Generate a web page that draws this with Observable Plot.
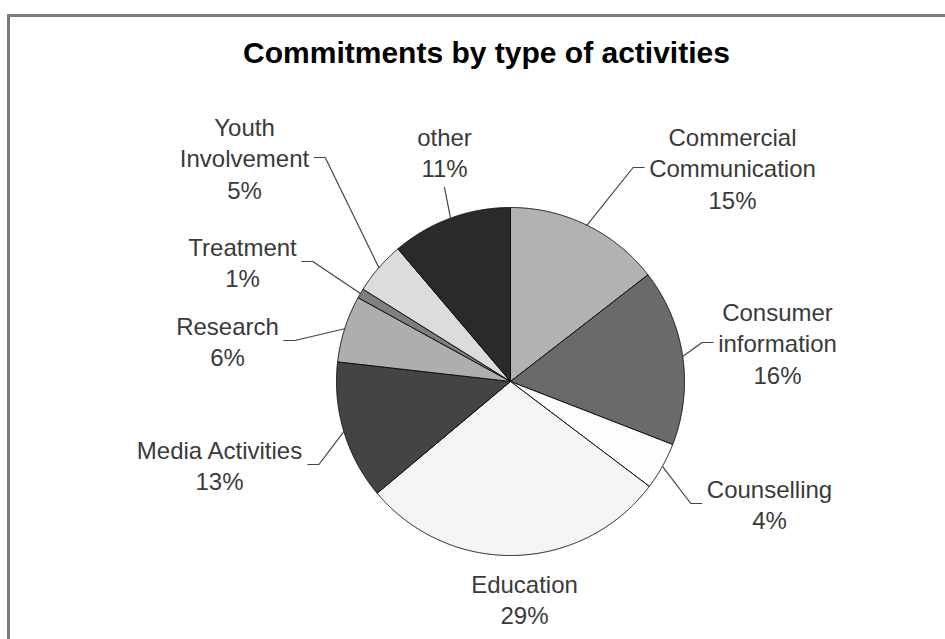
<!DOCTYPE html>
<html><head><meta charset="utf-8">
<script src="https://cdn.jsdelivr.net/npm/d3@7"></script>
<script src="https://cdn.jsdelivr.net/npm/@observablehq/plot@0.6"></script>
<style>
html,body{margin:0;padding:0;background:#fff;}
#wrap{position:relative;width:945px;height:639px;overflow:hidden;background:#fff;font-family:"Liberation Sans",Arial,sans-serif;}
#frame{position:absolute;left:7px;top:14px;width:1000px;height:700px;border-left:3px solid #7a7a7a;border-top:3px solid #7a7a7a;}
#title{position:absolute;left:14px;width:945px;top:38px;line-height:30px;font-size:30px;font-weight:bold;text-align:center;color:#000;}
#chart{position:absolute;left:0;top:90px;}
</style></head><body>
<div id="wrap"><div id="frame"></div><div id="title">Commitments by type of activities</div><div id="chart"></div></div>
<script>
// ---- data ----
const categories = ["Commercial\nCommunication", "Consumer\ninformation", "Counselling", "Education", "Media Activities", "Research", "Treatment", "Youth\nInvolvement", "other"];
const values = [14.5, 16.4, 4.4, 28.6, 12.9, 6.2, 0.9, 4.9, 11.2];
const percentLabels = ["15%", "16%", "4%", "29%", "13%", "6%", "1%", "5%", "11%"];

// ---- styles / layout ----
const sliceColors = ["#b2b2b2", "#6a6a6a", "#fdfdfd", "#f4f4f4", "#444444", "#aeaeae", "#7f7f7f", "#dcdcdc", "#2a2a2a"];
const labelLayout = [
  {cx: 732, cy: 167, attach: "side"},
  {cx: 777, cy: 342, attach: "side"},
  {cx: 769, cy: 503, attach: "side"},
  {cx: 524, cy: 598, attach: "none"},
  {cx: 219, cy: 464, attach: "side"},
  {cx: 227, cy: 340, attach: "side"},
  {cx: 242, cy: 261, attach: "side"},
  {cx: 244, cy: 157, attach: "side"},
  {cx: 444, cy: 151, attach: "below"}
];
const W = 945, H = 639, svgTop = 90;
const cx0 = 510, cy0 = 381, R = 174;
const fontSize = 24, lineHeight = 1.3;

const arcs = d3.pie().sort(null).value(d => d)(values);

// slice polygons
const sliceRows = [];
arcs.forEach((a, i) => {
  const n = Math.max(2, Math.ceil((a.endAngle - a.startAngle) / 0.004));
  sliceRows.push({k: i, x: cx0, y: cy0, fill: sliceColors[i]});
  for (let j = 0; j <= n; j++) {
    const t = a.startAngle + (a.endAngle - a.startAngle) * j / n;
    sliceRows.push({k: i, x: cx0 + R * Math.sin(t), y: cy0 - R * Math.cos(t), fill: sliceColors[i]});
  }
  sliceRows.push({k: i, x: cx0, y: cy0, fill: sliceColors[i]});
});

// labels and leaders
const ctx = document.createElement("canvas").getContext("2d");
ctx.font = fontSize + "px 'Liberation Sans'";
const labelRows = [];
const leaderRows = [];
arcs.forEach((a, i) => {
  const L = labelLayout[i];
  const text = categories[i] + "\n" + percentLabels[i];
  const lines = text.split("\n");
  labelRows.push({x: L.cx, y: L.cy, text});
  const mid = (a.startAngle + a.endAngle) / 2;
  const ex = cx0 + R * Math.sin(mid), ey = cy0 - R * Math.cos(mid);
  const halfW = d3.max(lines, s => ctx.measureText(s).width) / 2;
  if (L.attach === "side") {
    const side = ex > cx0 ? 1 : -1;
    const endX = L.cx - side * (halfW + 5);
    const elbowX = endX - side * 11;
    leaderRows.push({k: i, x: ex, y: ey}, {k: i, x: elbowX, y: L.cy}, {k: i, x: endX, y: L.cy});
  } else if (L.attach === "below") {
    const endY = L.cy + lines.length * fontSize * lineHeight / 2 + 5;
    leaderRows.push({k: i, x: ex, y: ey}, {k: i, x: L.cx, y: endY});
  }
});

const chart = Plot.plot({
  width: W,
  height: H - svgTop,
  margin: 0,
  style: {background: "transparent", overflow: "visible"},
  x: {domain: [0, W], range: [0, W], axis: null},
  y: {domain: [svgTop, H], range: [0, H - svgTop], axis: null},
  color: {type: "identity"},
  marks: [
    Plot.line(sliceRows, {x: "x", y: "y", z: "k", fill: "fill", stroke: "#111", strokeWidth: 1, strokeLinejoin: "round", curve: "linear"}),
    Plot.line(leaderRows, {x: "x", y: "y", z: "k", stroke: "#444", strokeWidth: 1.2, curve: "linear"}),
    Plot.text(labelRows, {x: "x", y: "y", text: "text", fontSize: fontSize, fontFamily: "'Liberation Sans', Arial, sans-serif", fill: "#3a3a3a", lineHeight: lineHeight, textAnchor: "middle", lineAnchor: "middle"})
  ]
});
document.getElementById("chart").appendChild(chart);
</script>
</body></html>
